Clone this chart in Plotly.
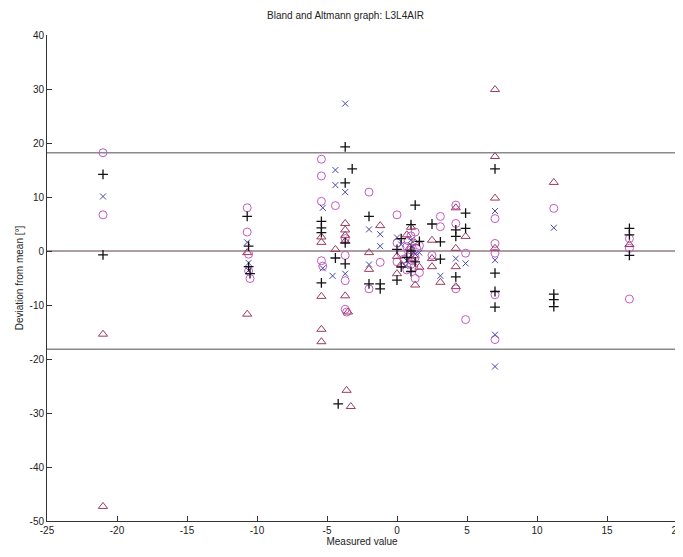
import plotly.graph_objects as go

# ---- data ----
circle_x = [-21.0, -21.0,
            -10.7, -10.7, -10.6, -10.6, -10.5,
            -5.4, -5.4, -5.4, -5.4, -5.3, -4.4, -3.7, -3.7, -3.7, -3.7, -3.6,
            -2.0, -2.0, -1.2,
            0.0, 0.0, 0.0, 0.3, 0.7, 0.7, 1.0, 1.0, 1.0, 1.3, 1.3, 1.3, 1.6, 1.6,
            0.5, 0.9, 1.1, 1.4, 0.8, 1.2,
            2.5, 3.1, 3.1, 4.2, 4.2, 4.2, 4.9, 4.9,
            7.0, 7.0, 7.0, 7.0, 7.0,
            11.2,
            16.6, 16.6, 16.6]
circle_y = [18.2, 6.7,
            8.0, 3.5, -0.6, -3.7, -5.1,
            17.0, 13.9, 9.2, -1.8, -2.8, 8.4, 2.3, -0.8, -5.5, -10.8, -11.3,
            10.9, -7.0, -2.1,
            6.7, 1.5, -2.0, -0.5, 0.8, -3.5, 2.8, 0.2, -2.5, 3.5, -1.2, -5.1, 1.0, -4.0,
            -1.5, -0.8, -1.8, 0.5, 1.9, -3.0,
            -0.8, 6.4, 4.5, 8.5, 5.1, -7.0, -0.4, -12.7,
            6.0, 1.4, -0.4, -8.1, -16.4,
            7.9,
            2.3, 0.5, -8.9]

tri_x = [-21.0, -21.0,
         -10.7, -10.7,
         -5.4, -5.4, -5.4, -5.4, -5.4, -4.4, -3.7, -3.7, -3.7, -3.7, -3.7, -3.5,
         -3.6, -3.3,
         -2.0, -2.0, -1.2,
         0.0, 0.0, 0.3, 0.7, 1.0, 1.0, 1.3, 1.3, 1.6, 0.9, 1.2,
         2.5, 2.5, 2.5, 3.1, 4.2, 4.2, 4.2, 4.2, 4.9,
         7.0, 7.0, 7.0, 7.0,
         11.2,
         16.6]
tri_y = [-15.4, -47.3,
         -0.3, -11.7,
         2.6, 1.6, -8.4, -14.5, -16.8, 0.3, 5.1, 3.9, 2.9, 1.8, -8.3, -11.3,
         -25.8, -28.8,
         -0.3, -3.4, 4.7,
         -1.0, -4.2, -2.5, 3.0, 4.4, -1.5, 1.5, -6.3, -3.0, 0.6, -0.9,
         2.0, -1.4, -2.9, -5.8, 8.0, 0.5, -2.9, -6.6, 2.7,
         29.9, 17.5, 9.8, 0.5,
         12.7,
         1.2]

xmark_x = [-21.0,
           -10.7, -10.6, -10.6,
           -5.3, -5.3, -4.4, -4.4, -3.7, -3.7, -3.7, -4.6,
           -2.0, -2.0, -1.2, -1.2,
           0.0, 0.3, 0.7, 1.0, 1.3, 1.6, 0.6, 1.1,
           3.1, 4.2, 4.9,
           7.0, 7.0, 7.0, 7.0,
           11.2]
xmark_y = [10.1,
           1.6, -2.2, -3.6,
           8.0, -3.2, 15.0, 12.2, 27.3, 10.9, -4.2, -4.6,
           4.0, -2.5, 3.1, 0.9,
           2.5, 1.2, -1.8, 2.0, -0.6, -0.3, -2.8, 0.9,
           -4.6, -1.4, -2.3,
           7.4, -1.7, -15.5, -21.4,
           4.3]

plus_x = [-21.0, -21.0,
          -10.7, -10.6, -10.6, -10.5,
          -5.4, -5.4, -5.4, -5.4, -4.4, -3.7, -3.7, -3.7, -3.7, -3.2, -4.2,
          -2.0, -2.0, -1.2, -1.2,
          0.0, 0.0, 0.3, 0.3, 0.7, 1.0, 1.0, 1.0, 1.3, 1.3, 1.6,
          2.5, 3.1, 3.1, 4.2, 4.2, 4.2, 4.9, 4.9,
          7.0, 7.0, 7.0, 7.0,
          11.2, 11.2, 11.2,
          16.6, 16.6, 16.6]
plus_y = [14.2, -0.7,
          6.4, 0.9, -2.9, -4.2,
          5.5, 4.3, 3.4, -5.9, -1.3, 19.3, 12.6, 1.5, -2.4, 15.2, -28.3,
          6.4, -6.1, -6.1, -7.0,
          0.3, -5.4, 2.3, -3.0, -1.2, 4.9, 0.0, -3.8, 8.5, -2.0, 1.8,
          5.0, 1.7, -1.5, 3.9, 2.7, -4.8, 7.0, 4.2,
          15.2, -4.1, -7.5, -10.4,
          -8.0, -9.0, -10.3,
          4.2, 3.0, -0.8]

x_range = [-25, 20]
y_range = [-50, 40]
x_ticks = [-25, -20, -15, -10, -5, 0, 5, 10, 15, 20]
y_ticks = [-50, -40, -30, -20, -10, 0, 10, 20, 30, 40]
mean_dev = 0.0
upper_limit = 18.2
lower_limit = -18.2

title_text = "Bland and Altmann graph: L3L4AIR"
x_title = "Measured value"
y_title = "Deviation from mean [°]"

FONT = "Liberation Sans, Arial, sans-serif"

fig = go.Figure()

for yv, col in [(upper_limit, "#8a8a8a"), (mean_dev, "#8f7f84"), (lower_limit, "#8a8a8a")]:
    fig.add_trace(go.Scatter(x=x_range, y=[yv, yv], mode="lines",
                             line=dict(color=col, width=1.5),
                             hoverinfo="skip", showlegend=False))

fig.add_trace(go.Scatter(x=circle_x, y=circle_y, mode="markers", showlegend=False,
                         marker=dict(symbol="circle-open", size=8,
                                     color="#c45ac4", line=dict(width=1))))
fig.add_trace(go.Scatter(x=tri_x, y=tri_y, mode="markers", showlegend=False,
                         marker=dict(symbol="triangle-up-open", size=8,
                                     color="#9c3c5c", line=dict(width=1))))
fig.add_trace(go.Scatter(x=xmark_x, y=xmark_y, mode="markers", showlegend=False,
                         marker=dict(symbol="x-thin-open", size=6,
                                     color="#4848b0", line=dict(width=1))))
fig.add_trace(go.Scatter(x=plus_x, y=plus_y, mode="markers", showlegend=False,
                         marker=dict(symbol="cross-thin-open", size=7,
                                     color="#111111", line=dict(width=1.3))))

axis_common = dict(showgrid=False, zeroline=False, showline=True,
                   linecolor="#333333", linewidth=1, ticks="inside",
                   ticklen=5, tickcolor="#333333", mirror=False, automargin=False,
                   tickfont=dict(family=FONT, size=10, color="#222222"))

# the page body adds an 8px offset; the figure is sized to fit the window
fig.update_layout(
    width=675, height=549,
    margin=dict(l=39, r=6, t=27, b=36),
    paper_bgcolor="white", plot_bgcolor="white",
    title=dict(text=title_text, x=0.5, xanchor="center", y=0.987, yanchor="middle",
               font=dict(family=FONT, size=10, color="#222222")),
    xaxis=dict(range=x_range, tickmode="array", tickvals=x_ticks,
               ticktext=[str(v) for v in x_ticks],
               title=dict(text=x_title, standoff=2,
                          font=dict(family=FONT, size=10, color="#222222")),
               **axis_common),
    yaxis=dict(range=y_range, tickmode="array", tickvals=y_ticks,
               ticktext=[str(v) for v in y_ticks],
               title=dict(text=y_title, standoff=4,
                          font=dict(family=FONT, size=10, color="#222222")),
               **axis_common),
)

fig.write_html("out.html")
